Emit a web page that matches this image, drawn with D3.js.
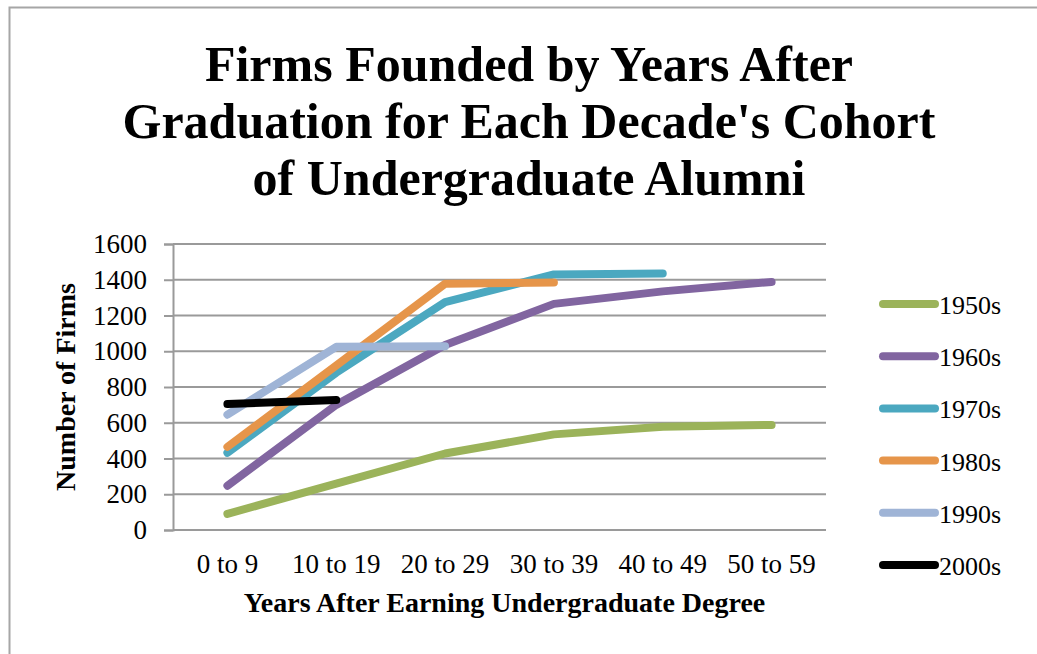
<!DOCTYPE html>
<html>
<head>
<meta charset="utf-8">
<script src="https://cdn.jsdelivr.net/npm/d3@7"></script>
<style>
  html, body { margin: 0; padding: 0; background: #fff; overflow: hidden; }
  text { font-family: "Liberation Serif", "Times New Roman", serif; fill: #000; }
</style>
</head>
<body>
<div id="plot"></div>
<script>
// data
const categories = ["0 to 9", "10 to 19", "20 to 29", "30 to 39", "40 to 49", "50 to 59"];
const cohorts = ["1950s", "1960s", "1970s", "1980s", "1990s", "2000s"];
const firms1950s = [90, 260, 428, 535, 578, 588];
const firms1960s = [248, 700, 1035, 1265, 1335, 1388];
const firms1970s = [432, 880, 1275, 1430, 1435, null];
const firms1980s = [465, 920, 1378, 1385, null, null];
const firms1990s = [645, 1025, 1028, null, null, null];
const firms2000s = [705, 727, null, null, null, null];
const yTicks = [0, 200, 400, 600, 800, 1000, 1200, 1400, 1600];
const titleLines = ["Firms Founded by Years After", "Graduation for Each Decade's Cohort", "of Undergraduate Alumni"];

const seriesValues = [firms1950s, firms1960s, firms1970s, firms1980s, firms1990s, firms2000s];
const colors = ["#9bb35a", "#8165a0", "#4ba8c0", "#e6954a", "#9fb4d6", "#000000"];

const width = 1037, height = 654;
const margin = { top: 244, right: 211, bottom: 124, left: 173 };

const svg = d3.select("#plot").append("svg")
    .attr("width", width)
    .attr("height", height);

// outer chart frame (runs off the right and bottom of the picture)
svg.append("rect")
    .attr("x", 9.5).attr("y", 7.5)
    .attr("width", 1100).attr("height", 700)
    .attr("fill", "none")
    .attr("stroke", "#a6a6a6")
    .attr("stroke-width", 2);

// title
svg.append("g").selectAll("text")
    .data(titleLines)
    .enter().append("text")
    .attr("x", 529)
    .attr("y", (d, i) => 81 + i * 57)
    .attr("text-anchor", "middle")
    .attr("font-size", 50)
    .attr("font-weight", "bold")
    .text(d => d);

const x = d3.scalePoint()
    .domain(categories)
    .range([margin.left, width - margin.right])
    .padding(0.5);

const y = d3.scaleLinear()
    .domain([0, 1600])
    .range([height - margin.bottom, margin.top]);

// gridlines + y axis
const yAxis = svg.append("g")
    .attr("transform", `translate(${margin.left},0)`)
    .call(d3.axisLeft(y).tickValues(yTicks).tickSize(9).tickPadding(17).tickFormat(d3.format("d")));
yAxis.select(".domain").attr("stroke", "#9a9a9a").attr("stroke-width", 2);
yAxis.selectAll(".tick line").attr("stroke", "#9a9a9a").attr("stroke-width", 2);
yAxis.selectAll(".tick text").attr("font-size", 27).attr("font-family", "Liberation Serif").attr("fill", "#000");

svg.append("g").selectAll("line")
    .data(yTicks)
    .enter().append("line")
    .attr("x1", margin.left)
    .attr("x2", width - margin.right)
    .attr("y1", d => y(d))
    .attr("y2", d => y(d))
    .attr("stroke", "#9a9a9a")
    .attr("stroke-width", 2);

// x category labels
svg.append("g").selectAll("text")
    .data(categories)
    .enter().append("text")
    .attr("x", d => x(d))
    .attr("y", 573)
    .attr("text-anchor", "middle")
    .attr("font-size", 27)
    .text(d => d);

// axis titles
svg.append("text")
    .attr("x", (margin.left + width - margin.right) / 2 + 5)
    .attr("y", 612)
    .attr("text-anchor", "middle")
    .attr("font-size", 28)
    .attr("font-weight", "bold")
    .text("Years After Earning Undergraduate Degree");

svg.append("text")
    .attr("transform", "translate(75,387) rotate(-90)")
    .attr("text-anchor", "middle")
    .attr("font-size", 28)
    .attr("font-weight", "bold")
    .text("Number of Firms");

// series lines
const line = d3.line()
    .defined(d => d.v !== null)
    .x(d => x(d.c))
    .y(d => y(d.v));

svg.append("g").selectAll("path")
    .data(seriesValues)
    .enter().append("path")
    .attr("d", vals => line(vals.map((v, i) => ({ c: categories[i], v: v }))))
    .attr("fill", "none")
    .attr("stroke", (d, i) => colors[i])
    .attr("stroke-width", 8)
    .attr("stroke-linecap", "round")
    .attr("stroke-linejoin", "round");

// legend
const legend = svg.append("g").selectAll("g")
    .data(cohorts)
    .enter().append("g")
    .attr("transform", (d, i) => `translate(879,${304 + i * 52.2})`);

legend.append("line")
    .attr("x1", 4).attr("x2", 56)
    .attr("stroke", (d, i) => colors[i])
    .attr("stroke-width", 8)
    .attr("stroke-linecap", "round");

legend.append("text")
    .attr("x", 60)
    .attr("y", 10)
    .attr("font-size", 26)
    .text(d => d);
</script>
</body>
</html>
